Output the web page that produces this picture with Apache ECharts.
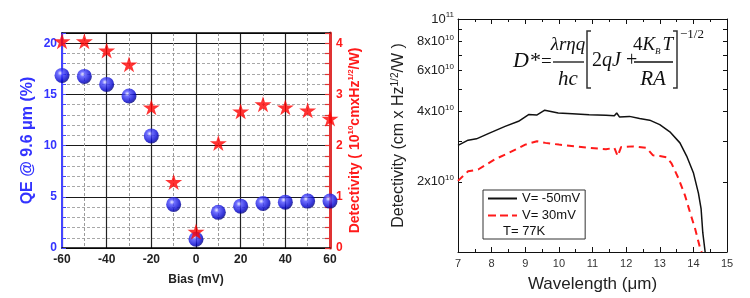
<!DOCTYPE html>
<html>
<head>
<meta charset="utf-8">
<script src="https://cdn.jsdelivr.net/npm/echarts@6/dist/echarts.min.js"></script>
<style>
html,body{margin:0;padding:0;background:#fff;}
#c{width:750px;height:298px;}
</style>
</head>
<body>
<div id="c"></div>
<script>
// ---- Left panel: QE and detectivity vs bias ----
const bias = [-60, -50, -40, -30, -20, -10, 0, 10, 20, 30, 40, 50, 60];
const qe = [16.86, 16.76, 15.98, 14.85, 10.95, 4.26, 0.85, 3.48, 4.09, 4.35, 4.48, 4.58, 4.58];
const detect = [4.04, 4.04, 3.86, 3.59, 2.75, 1.29, 0.32, 2.05, 2.67, 2.81, 2.75, 2.69, 2.53];

// ---- Right panel: detectivity spectra (units of 10^10 cm Hz^1/2/W) ----
const wlNeg50 = [7.0, 7.3, 7.55, 7.9, 8.4, 8.8, 9.1, 9.34, 9.58, 9.98, 10.4, 10.9, 11.4, 11.65, 11.72, 11.8, 12.1, 12.4, 12.7, 13.0, 13.3, 13.6, 13.8, 14.0, 14.15, 14.23, 14.28, 14.35];
const dNeg50 = [2.87, 3.02, 3.06, 3.22, 3.46, 3.64, 3.89, 3.87, 4.06, 3.95, 3.92, 3.88, 3.86, 3.84, 3.95, 3.80, 3.82, 3.74, 3.68, 3.52, 3.28, 2.94, 2.58, 2.19, 1.79, 1.53, 1.21, 1.0];
const wlPos30 = [7.0, 7.3, 7.6, 8.1, 8.5, 9.0, 9.35, 9.6, 10.0, 10.5, 10.9, 11.4, 11.65, 11.75, 11.85, 12.2, 12.6, 12.8, 13.0, 13.2, 13.35, 13.55, 13.75, 13.9, 14.05, 14.2, 14.25];
const dPos30 = [2.02, 2.22, 2.26, 2.50, 2.66, 2.89, 2.99, 2.94, 2.89, 2.84, 2.80, 2.76, 2.80, 2.58, 2.82, 2.84, 2.80, 2.60, 2.58, 2.55, 2.40, 2.08, 1.75, 1.48, 1.26, 1.04, 1.0];

// tick labels
const detLabelMultiples = [2, 4, 6, 8, 10];
const detTickMultiples = [1, 2, 3, 4, 5, 6, 7, 8, 9, 10];

const seriesNames = ['V= -50mV', 'V= 30mV'];
const tempText = 'T= 77K';

const SANS = 'Liberation Sans';
const SERIF = 'Liberation Serif';
const BLUE = '#3333ff';
const RED = '#ff1a1a';

const starPath = 'path://M50,0 L61,35 L98,35 L68,57 L79,91 L50,70 L21,91 L32,57 L2,35 L39,35 Z';

const chart = echarts.init(document.getElementById('c'), null, {renderer: 'canvas'});

const supRich = {
  m: {fontSize: 13, color: '#222', fontFamily: SANS, lineHeight: 16},
  s: {fontSize: 8, color: '#222', fontFamily: SANS, verticalAlign: 'top', lineHeight: 16, padding: [0, 0, 6, 0]}
};

const option = {
  animation: false,
  backgroundColor: '#fff',
  grid: [
    {left: 62, right: 420, top: 33, bottom: 50},
    {left: 458, right: 23, top: 19, bottom: 46}
  ],
  legend: {
    data: [
      {name: seriesNames[0], icon: 'path://M0,0h29v2h-29z'},
      {name: seriesNames[1], icon: 'path://M0,0h8v2h-8z M12,0h8v2h-8z M24,0h5v2h-5z'}
    ],
    orient: 'vertical',
    left: 483, top: 190,
    padding: [2, 5, 17, 5],
    itemWidth: 29, itemHeight: 14, itemGap: 4,
    borderColor: '#333', borderWidth: 1,
    textStyle: {fontSize: 13, color: '#111', fontFamily: SANS},
    selectedMode: false
  },
  xAxis: [
    {
      gridIndex: 0, type: 'value', min: -60, max: 60, interval: 20, position: 'bottom',
      axisLine: {onZero: false, lineStyle: {color: '#000', width: 1.5}},
      axisTick: {show: false},
      axisLabel: {color: '#222', fontWeight: 'bold', fontSize: 12, margin: 6, fontFamily: SANS},
      splitLine: {show: true, lineStyle: {color: '#222', width: 1.2}},
      minorTick: {show: false, splitNumber: 2},
      minorSplitLine: {show: true, lineStyle: {color: '#9a9a9a', type: [3, 2], width: 1}},
      name: 'Bias (mV)', nameLocation: 'middle', nameGap: 26,
      nameTextStyle: {color: '#222', fontWeight: 'bold', fontSize: 12, fontFamily: SANS}
    },
    {
      gridIndex: 0, type: 'value', min: -60, max: 60, position: 'top',
      axisLine: {onZero: false, lineStyle: {color: '#000', width: 1.5}},
      axisTick: {show: false}, axisLabel: {show: false}, splitLine: {show: false}
    },
    {
      gridIndex: 1, type: 'value', min: 7, max: 15, interval: 1, position: 'bottom',
      axisLine: {onZero: false, lineStyle: {color: '#111', width: 1}},
      axisTick: {show: true, inside: true, length: 5, lineStyle: {color: '#111'}},
      minorTick: {show: true, splitNumber: 2, length: 3, lineStyle: {color: '#111'}},
      axisLabel: {color: '#333', fontSize: 11, margin: 6, fontFamily: SANS},
      splitLine: {show: false},
      name: 'Wavelength (μm)', nameLocation: 'middle', nameGap: 24,
      nameTextStyle: {color: '#222', fontSize: 17, fontFamily: SANS}
    },
    {
      gridIndex: 1, type: 'value', min: 7, max: 15, interval: 1, position: 'top',
      axisLine: {onZero: false, lineStyle: {color: '#111', width: 1}},
      axisTick: {show: true, inside: true, length: 5, lineStyle: {color: '#111'}},
      minorTick: {show: true, splitNumber: 2, length: 3, lineStyle: {color: '#111'}},
      axisLabel: {show: false}, splitLine: {show: false}
    }
  ],
  yAxis: [
    {
      gridIndex: 0, type: 'value', min: 0, max: 21, interval: 1, position: 'left',
      axisLine: {show: true, onZero: false, lineStyle: {color: '#4444ff', width: 2}},
      axisTick: {show: true, inside: true, length: 4, lineStyle: {color: '#4444ff'}},
      axisLabel: {
        formatter: v => (Math.round(v) % 5 === 0 ? String(Math.round(v)) : ''),
        color: BLUE, fontWeight: 'bold', fontSize: 12, margin: 5, fontFamily: SANS
      },
      splitLine: {show: true, lineStyle: {color: '#a8a8a8', type: [3, 2], width: 1}},
      name: 'QE @ 9.6 μm (%)', nameLocation: 'middle', nameGap: 26, nameRotate: 90,
      nameTextStyle: {color: BLUE, fontWeight: 'bold', fontSize: 16, fontFamily: SANS}
    },
    {
      gridIndex: 0, type: 'value', min: 0, max: 4.2, interval: 0.2, position: 'right',
      axisLine: {show: true, onZero: false, lineStyle: {color: '#e03333', width: 3}},
      axisTick: {show: true, inside: true, length: 5, lineStyle: {color: '#e03333', width: 1.2}},
      axisLabel: {
        formatter: v => (Math.abs(v - Math.round(v)) < 1e-6 ? String(Math.round(v)) : ''),
        color: RED, fontWeight: 'bold', fontSize: 12, margin: 6, fontFamily: SANS
      },
      splitLine: {show: false},
      name: '{a|Detectivity ( 10}{s|10}{a|cmxHz}{s|1/2}{a|/W)}',
      nameLocation: 'middle', nameGap: 17, nameRotate: 90,
      nameTextStyle: {
        rich: {
          a: {color: RED, fontWeight: 'bold', fontSize: 14, fontFamily: SANS, lineHeight: 16},
          s: {color: RED, fontWeight: 'bold', fontSize: 8, fontFamily: SANS, verticalAlign: 'top', lineHeight: 16, padding: [0, 0, 6, 0]}
        }
      }
    },
    {
      gridIndex: 0, type: 'value', min: 0, max: 21, interval: 5, position: 'left',
      axisLine: {show: false, onZero: false}, axisTick: {show: false}, axisLabel: {show: false},
      splitLine: {show: true, lineStyle: {color: '#1a1a1a', width: 1.2}}
    },
    {
      gridIndex: 1, type: 'log', logBase: 10, min: 1, max: 10, position: 'left',
      axisLine: {show: true, onZero: false, lineStyle: {color: '#111', width: 1}},
      axisTick: {show: false}, axisLabel: {show: false}, splitLine: {show: false}, minorTick: {show: false}
    },
    {
      gridIndex: 1, type: 'value', min: 0, max: 1, position: 'left',
      axisLine: {show: false, onZero: false},
      axisTick: {show: true, inside: true, length: 4, lineStyle: {color: '#111'},
        customValues: detTickMultiples.map(m => Math.log10(m))},
      axisLabel: {
        customValues: detLabelMultiples.map(m => Math.log10(m)),
        formatter: v => {
          const m = Math.round(Math.pow(10, v));
          return m === 10 ? '{m|10}{s|11}' : '{m|' + m + 'x10}{s|10}';
        },
        margin: 4, rich: supRich
      },
      splitLine: {show: false},
      name: '{m|Detectivity (cm x Hz}{s|1/2}{m|/W )}',
      nameLocation: 'middle', nameGap: 50, nameRotate: 90,
      nameTextStyle: {
        rich: {
          m: {fontSize: 16, color: '#222', fontFamily: SANS, lineHeight: 18},
          s: {fontSize: 10, color: '#222', fontFamily: SANS, verticalAlign: 'top', lineHeight: 18, padding: [0, 0, 6, 0]}
        }
      }
    },
    {
      gridIndex: 1, type: 'value', min: 0, max: 1, position: 'right',
      axisLine: {show: true, onZero: false, lineStyle: {color: '#111', width: 1}},
      axisTick: {show: true, inside: true, length: 4, lineStyle: {color: '#111'},
        customValues: detTickMultiples.map(m => Math.log10(m))},
      axisLabel: {show: false}, splitLine: {show: false}
    }
  ],
  series: [
    {
      name: 'QE', type: 'scatter', xAxisIndex: 0, yAxisIndex: 0,
      data: bias.map((b, i) => [b, qe[i]]),
      symbol: 'circle', symbolSize: 15,
      itemStyle: {
        color: {type: 'radial', x: 0.38, y: 0.35, r: 0.7,
          colorStops: [{offset: 0, color: '#e6e6ff'}, {offset: 0.25, color: '#4a4aff'}, {offset: 0.75, color: '#0000cc'}, {offset: 1, color: '#00006a'}]}
      },
      z: 3
    },
    {
      name: 'Detectivity', type: 'scatter', xAxisIndex: 0, yAxisIndex: 1,
      data: bias.map((b, i) => [b, detect[i]]),
      symbol: starPath, symbolSize: [17, 16],
      itemStyle: {color: '#ff0000'},
      z: 4
    },
    {
      name: seriesNames[0], type: 'line', xAxisIndex: 2, yAxisIndex: 3,
      data: wlNeg50.map((w, i) => [w, dNeg50[i]]),
      symbol: 'none', lineStyle: {color: '#111', width: 1.5}, itemStyle: {color: '#111'}
    },
    {
      name: seriesNames[1], type: 'line', xAxisIndex: 2, yAxisIndex: 3,
      data: wlPos30.map((w, i) => [w, dPos30[i]]),
      symbol: 'none', lineStyle: {color: RED, width: 2, type: [7, 5]}, itemStyle: {color: RED}
    }
  ],
  graphic: [
    {type: 'text', left: 503, top: 225, style: {text: tempText, fontSize: 13, fontFamily: SANS, fill: '#111'}},
    // formula
    {type: 'text', x: 513, y: 61, style: {text: 'D*', font: 'italic 22px ' + SERIF, fill: '#111', align: 'left', verticalAlign: 'middle', textAlign: 'left', textVerticalAlign: 'middle'}},
    {type: 'text', x: 541, y: 62, style: {text: '=', font: '19px ' + SERIF, fill: '#111', align: 'left', verticalAlign: 'middle', textAlign: 'left', textVerticalAlign: 'middle'}},
    {type: 'text', x: 568, y: 45, style: {text: 'λrηq', font: 'italic 19px ' + SERIF, fill: '#111', align: 'center', verticalAlign: 'middle', textAlign: 'center', textVerticalAlign: 'middle'}},
    {type: 'line', shape: {x1: 553, y1: 62, x2: 584, y2: 62}, style: {stroke: '#111', lineWidth: 1.3}},
    {type: 'text', x: 568, y: 79, style: {text: 'hc', font: 'italic 21px ' + SERIF, fill: '#111', align: 'center', verticalAlign: 'middle', textAlign: 'center', textVerticalAlign: 'middle'}},
    {type: 'polyline', shape: {points: [[591, 31], [587, 31], [587, 88], [591, 88]]}, style: {stroke: '#333', lineWidth: 1.5, fill: null}},
    {type: 'text', x: 592, y: 61, style: {
      text: '{n|2}{i|qJ}{n| +}', align: 'left', verticalAlign: 'middle', textAlign: 'left', textVerticalAlign: 'middle',
      rich: {n: {font: '20px ' + SERIF, fill: '#111'}, i: {font: 'italic 20px ' + SERIF, fill: '#111'}}
    }},
    {type: 'line', shape: {x1: 634, y1: 62, x2: 673, y2: 62}, style: {stroke: '#111', lineWidth: 1.3}},
    {type: 'text', x: 653, y: 45, style: {
      text: '{n|4}{i|K}{b|B}{i|T}', align: 'center', verticalAlign: 'middle', textAlign: 'center', textVerticalAlign: 'middle',
      rich: {n: {font: '19px ' + SERIF, fill: '#111', lineHeight: 22}, i: {font: 'italic 19px ' + SERIF, fill: '#111', lineHeight: 22}, b: {font: 'italic 9px ' + SERIF, fill: '#111', verticalAlign: 'bottom', lineHeight: 22, padding: [0, 2, 0, 0]}}
    }},
    {type: 'text', x: 653, y: 79, style: {text: 'RA', font: 'italic 21px ' + SERIF, fill: '#111', align: 'center', verticalAlign: 'middle', textAlign: 'center', textVerticalAlign: 'middle'}},
    {type: 'polyline', shape: {points: [[673, 31], [677, 31], [677, 88], [673, 88]]}, style: {stroke: '#333', lineWidth: 1.5, fill: null}},
    {type: 'text', x: 680, y: 35, style: {text: '−1/2', font: '13px ' + SERIF, fill: '#111', align: 'left', verticalAlign: 'middle', textAlign: 'left', textVerticalAlign: 'middle'}}
  ]
};

chart.setOption(option);
</script>
</body>
</html>
